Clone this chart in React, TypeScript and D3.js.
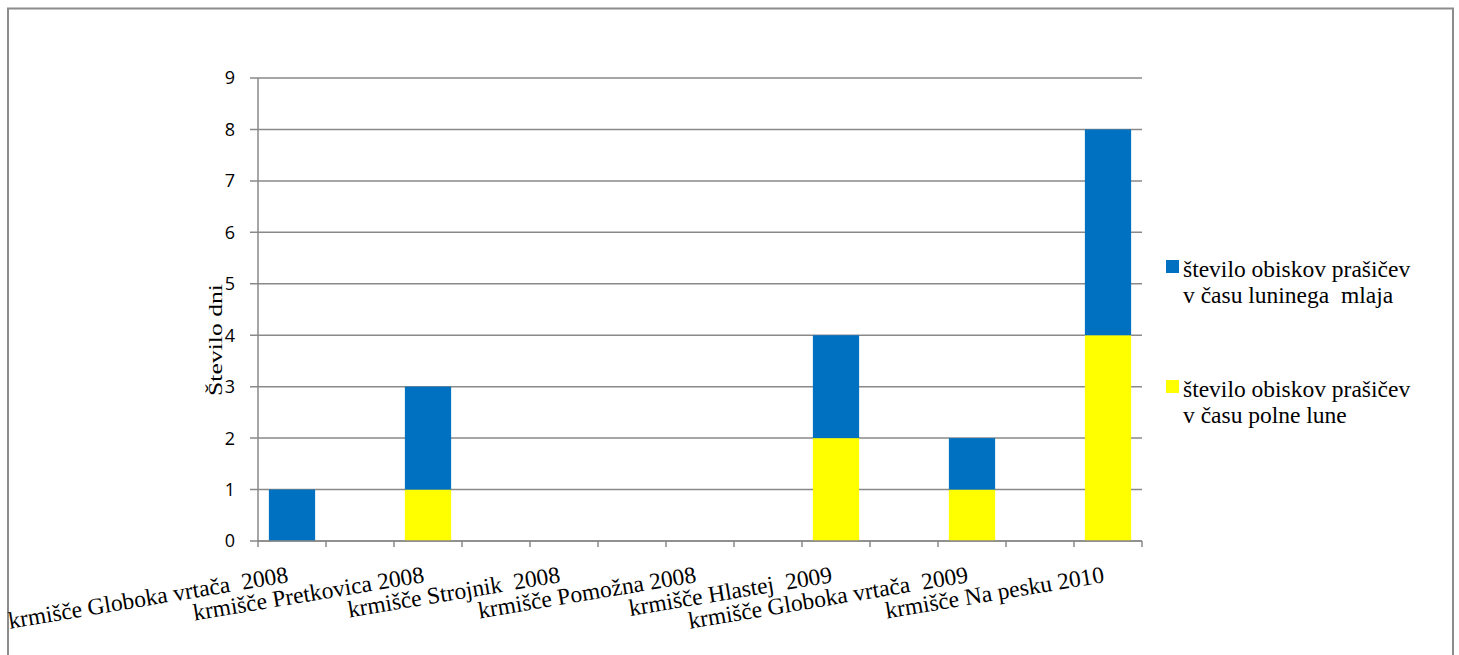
import React from "react";
import * as d3 from "d3";

// Feeding sites; blank entries are the empty spacer rows between sites.
const categories: string[] = [
  "krmišče Globoka vrtača  2008",
  "",
  "krmišče Pretkovica 2008",
  "",
  "krmišče Strojnik  2008",
  "",
  "krmišče Pomožna 2008",
  "",
  "krmišče Hlastej  2009",
  "",
  "krmišče Globoka vrtača  2009",
  "",
  "krmišče Na pesku 2010",
];

// Number of days with wild boar visits during the full moon
const fullMoon: number[] = [0, 0, 1, 0, 0, 0, 0, 0, 2, 0, 1, 0, 4];
// Number of days with wild boar visits during the new moon
const newMoon: number[] = [1, 0, 2, 0, 0, 0, 0, 0, 2, 0, 1, 0, 4];

const yTicks: number[] = [0, 1, 2, 3, 4, 5, 6, 7, 8, 9];

const seriesNames = [
  ["število obiskov prašičev", "v času luninega  mlaja"],
  ["število obiskov prašičev", "v času polne lune"],
];
const seriesColors = ["#0070C0", "#FFFF00"];

const W = 1459;
const H = 655;
const plot = { left: 258, right: 1142, top: 78, bottom: 541 };
const gridColor = "#898989";
const serif = "'Liberation Serif', 'Times New Roman', serif";
const sans = "'Open Sans', 'Liberation Sans', sans-serif";

export default function App() {
  const x = d3
    .scaleBand<number>()
    .domain(d3.range(categories.length))
    .range([plot.left, plot.right])
    .paddingInner(0.32)
    .paddingOuter(0.16);
  const y = d3.scaleLinear().domain([0, 9]).range([plot.bottom, plot.top]);

  const rows = categories.map((c, i) => ({ i, full: fullMoon[i], nw: newMoon[i] }));
  const stack = d3.stack<any>().keys(["full", "nw"])(rows);
  const step = x.step();
  const boundaries = d3.range(categories.length + 1).map((k) => plot.left + k * step);

  return (
    <svg
      width={W}
      height={H}
      style={{ position: "absolute", left: 0, top: 0, background: "#fff" }}
    >
      <rect x={0} y={0} width={W} height={H} fill="#fff" />
      {/* chart area frame */}
      <rect x={8} y={8.5} width={1445} height={700} fill="none" stroke="#8c8c8c" strokeWidth={2} />

      {/* horizontal gridlines */}
      {yTicks.map((t) => (
        <line
          key={"g" + t}
          x1={plot.left - 8}
          x2={plot.right}
          y1={y(t)}
          y2={y(t)}
          stroke={gridColor}
          strokeWidth={1.5}
        />
      ))}
      {/* y axis */}
      <line x1={plot.left} x2={plot.left} y1={plot.top} y2={plot.bottom} stroke={gridColor} strokeWidth={1.5} />
      {yTicks.map((t) => (
        <text
          key={"yl" + t}
          x={235}
          y={y(t)}
          dy="0.36em"
          textAnchor="end"
          fontFamily={sans}
          fontSize={18}
          fill="#000"
        >
          {t}
        </text>
      ))}
      <text
        transform={`translate(222,340) rotate(-90)`}
        textAnchor="middle"
        fontFamily={serif}
        fontSize={19}
        textLength={112}
        lengthAdjust="spacingAndGlyphs"
        fill="#000"
      >
        Število dni
      </text>

      {/* stacked bars */}
      {stack.map((layer, li) => (
        <g key={"s" + li} fill={li === 0 ? seriesColors[1] : seriesColors[0]}>
          {layer.map((d: any, i: number) =>
            d[1] - d[0] > 0 ? (
              <rect
                key={i}
                x={x(i)!}
                width={x.bandwidth()}
                y={y(d[1])}
                height={y(d[0]) - y(d[1])}
              />
            ) : null
          )}
        </g>
      ))}

      {/* x axis */}
      <line x1={plot.left} x2={plot.right} y1={plot.bottom} y2={plot.bottom} stroke={gridColor} strokeWidth={1.5} />
      {boundaries.map((bx, k) => (
        <line key={"xt" + k} x1={bx} x2={bx} y1={plot.bottom} y2={plot.bottom + 6} stroke={gridColor} strokeWidth={1.5} />
      ))}
      {categories.map((c, i) =>
        c ? (
          <text
            key={"xl" + i}
            transform={`translate(${x(i)! + x.bandwidth() / 2 - 3},582) rotate(-9.5)`}
            textAnchor="end"
            fontFamily={serif}
            fontSize={23.5}
            fill="#000"
            style={{ whiteSpace: "pre" }}
          >
            {c}
          </text>
        ) : null
      )}

      {/* legend */}
      {seriesNames.map((lines, k) => (
        <g key={"lg" + k} transform={`translate(1166,${k === 0 ? 260 : 380})`}>
          <rect x={0} y={0} width={13} height={13} fill={seriesColors[k]} />
          {lines.map((ln, j) => (
            <text
              key={j}
              x={17}
              y={17 + j * 26}
              fontFamily={serif}
              fontSize={23.5}
              fill="#000"
              style={{ whiteSpace: "pre" }}
            >
              {ln}
            </text>
          ))}
        </g>
      ))}
    </svg>
  );
}
